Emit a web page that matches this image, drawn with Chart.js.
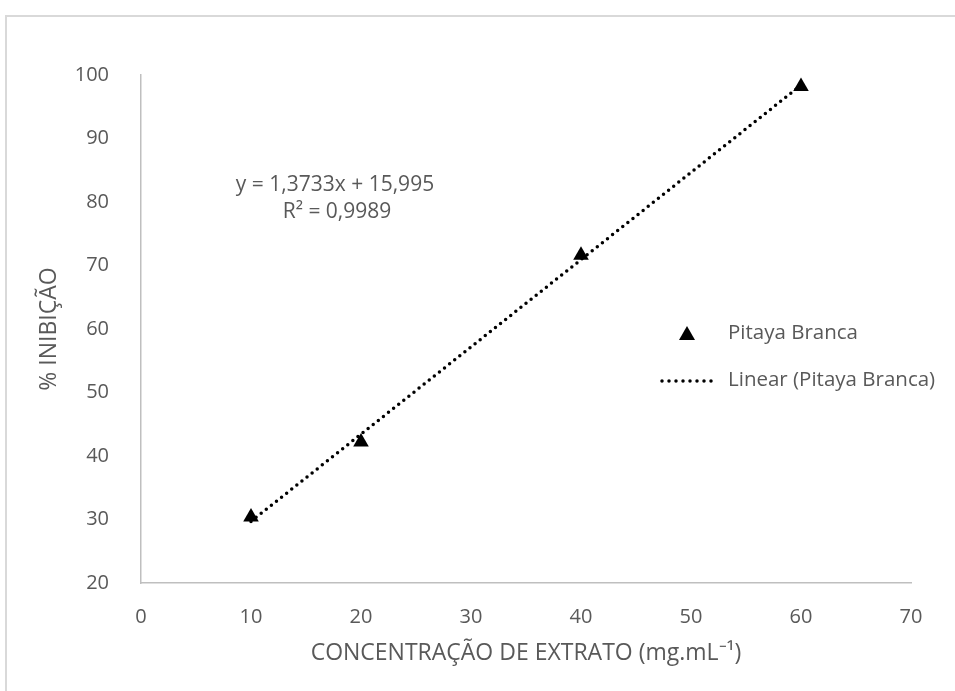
<!DOCTYPE html>
<html>
<head>
<meta charset="utf-8">
<script src="https://cdn.jsdelivr.net/npm/chart.js@4"></script>
<style>
body{margin:0;background:#fff;overflow:hidden;}
#frame{position:absolute;left:5px;top:15px;width:1200px;height:1000px;border:2px solid #d9d9d9;}
#wrap{position:absolute;left:0;top:0;width:955px;height:691px;}
</style>
</head>
<body>
<div id="frame"></div>
<div id="wrap"><canvas id="chart" width="955" height="691"></canvas></div>
<script>
// data
let concentracao = [10, 20, 40, 60];
let inibicao = [30.4, 42.2, 71.6, 98.2];

// trend line ends (y = 1,3733x + 15,995)
let trendX = [10, 60];
let trendY = [29.7, 98.4];

let eqText = "y = 1,3733x + 15,995";
let r2Text = "R² = 0,9989";
let serieName = "Pitaya Branca";
let trendName = "Linear (Pitaya Branca)";

let grey = "#595959";
let fontFam = "'Open Sans', 'Liberation Sans', sans-serif";

// legend + equation text drawn on top
const extras = {
id:"extras",
afterDraw(chart){
const c = chart.ctx;
c.save();
c.fillStyle = grey;
c.font = "21px " + fontFam;
c.textAlign = "center";
c.textBaseline = "middle";
c.fillText(eqText, 335, 185);
c.fillText(r2Text, 337, 212);

// legend
c.font = "20.5px " + fontFam;
c.textAlign = "left";
c.fillText(serieName, 728, 333);
c.fillText(trendName, 728, 380);

c.fillStyle = "#000";
c.beginPath();
c.moveTo(687, 326);
c.lineTo(695, 340);
c.lineTo(679, 340);
c.closePath();
c.fill();

c.strokeStyle = "#000";
c.lineWidth = 3.5;
c.lineCap = "round";
c.setLineDash([0, 7]);
c.beginPath();
c.moveTo(662, 381);
c.lineTo(714, 381);
c.stroke();
c.restore();
}
};

new Chart(document.getElementById("chart"),{
type:"scatter",
data:{
datasets:[
{
label:serieName,
data:concentracao.map((x,i)=>({x:x, y:inibicao[i]})),
pointStyle:"triangle",
pointRadius:9,
pointHoverRadius:9,
backgroundColor:"#000",
borderColor:"#000",
borderWidth:0,
order:1
},
{
label:trendName,
data:trendX.map((x,i)=>({x:x, y:trendY[i]})),
showLine:true,
pointRadius:0,
borderColor:"#000",
borderWidth:3.5,
borderCapStyle:"round",
borderDash:[0, 6.5],
fill:false,
order:2
}
]
},
options:{
responsive:false,
animation:false,
layout:{padding:{left:0, top:75, right:44, bottom:0}},
plugins:{
legend:{display:false},
tooltip:{enabled:false}
},
scales:{
x:{
type:"linear",
min:0,
max:70,
afterFit(scale){ scale.height = 108; },
ticks:{stepSize:10, color:grey, padding:14, font:{family:fontFam, size:20}},
grid:{display:false},
border:{display:true, color:"#bfbfbf", width:1.5},
title:{display:true, text:"CONCENTRAÇÃO DE EXTRATO (mg.mL⁻¹)", color:grey, font:{family:fontFam, size:23}, padding:{top:0, bottom:24}}
},
y:{
min:20,
max:100,
afterFit(scale){ scale.width = 141; },
ticks:{stepSize:10, color:grey, padding:24, font:{family:fontFam, size:20}},
grid:{display:false},
border:{display:true, color:"#bfbfbf", width:1.5},
title:{display:true, text:"% INIBIÇÃO", color:grey, font:{family:fontFam, size:23}, padding:{top:36, bottom:0}}
}
}
},
plugins:[extras]
});
</script>
</body>
</html>
